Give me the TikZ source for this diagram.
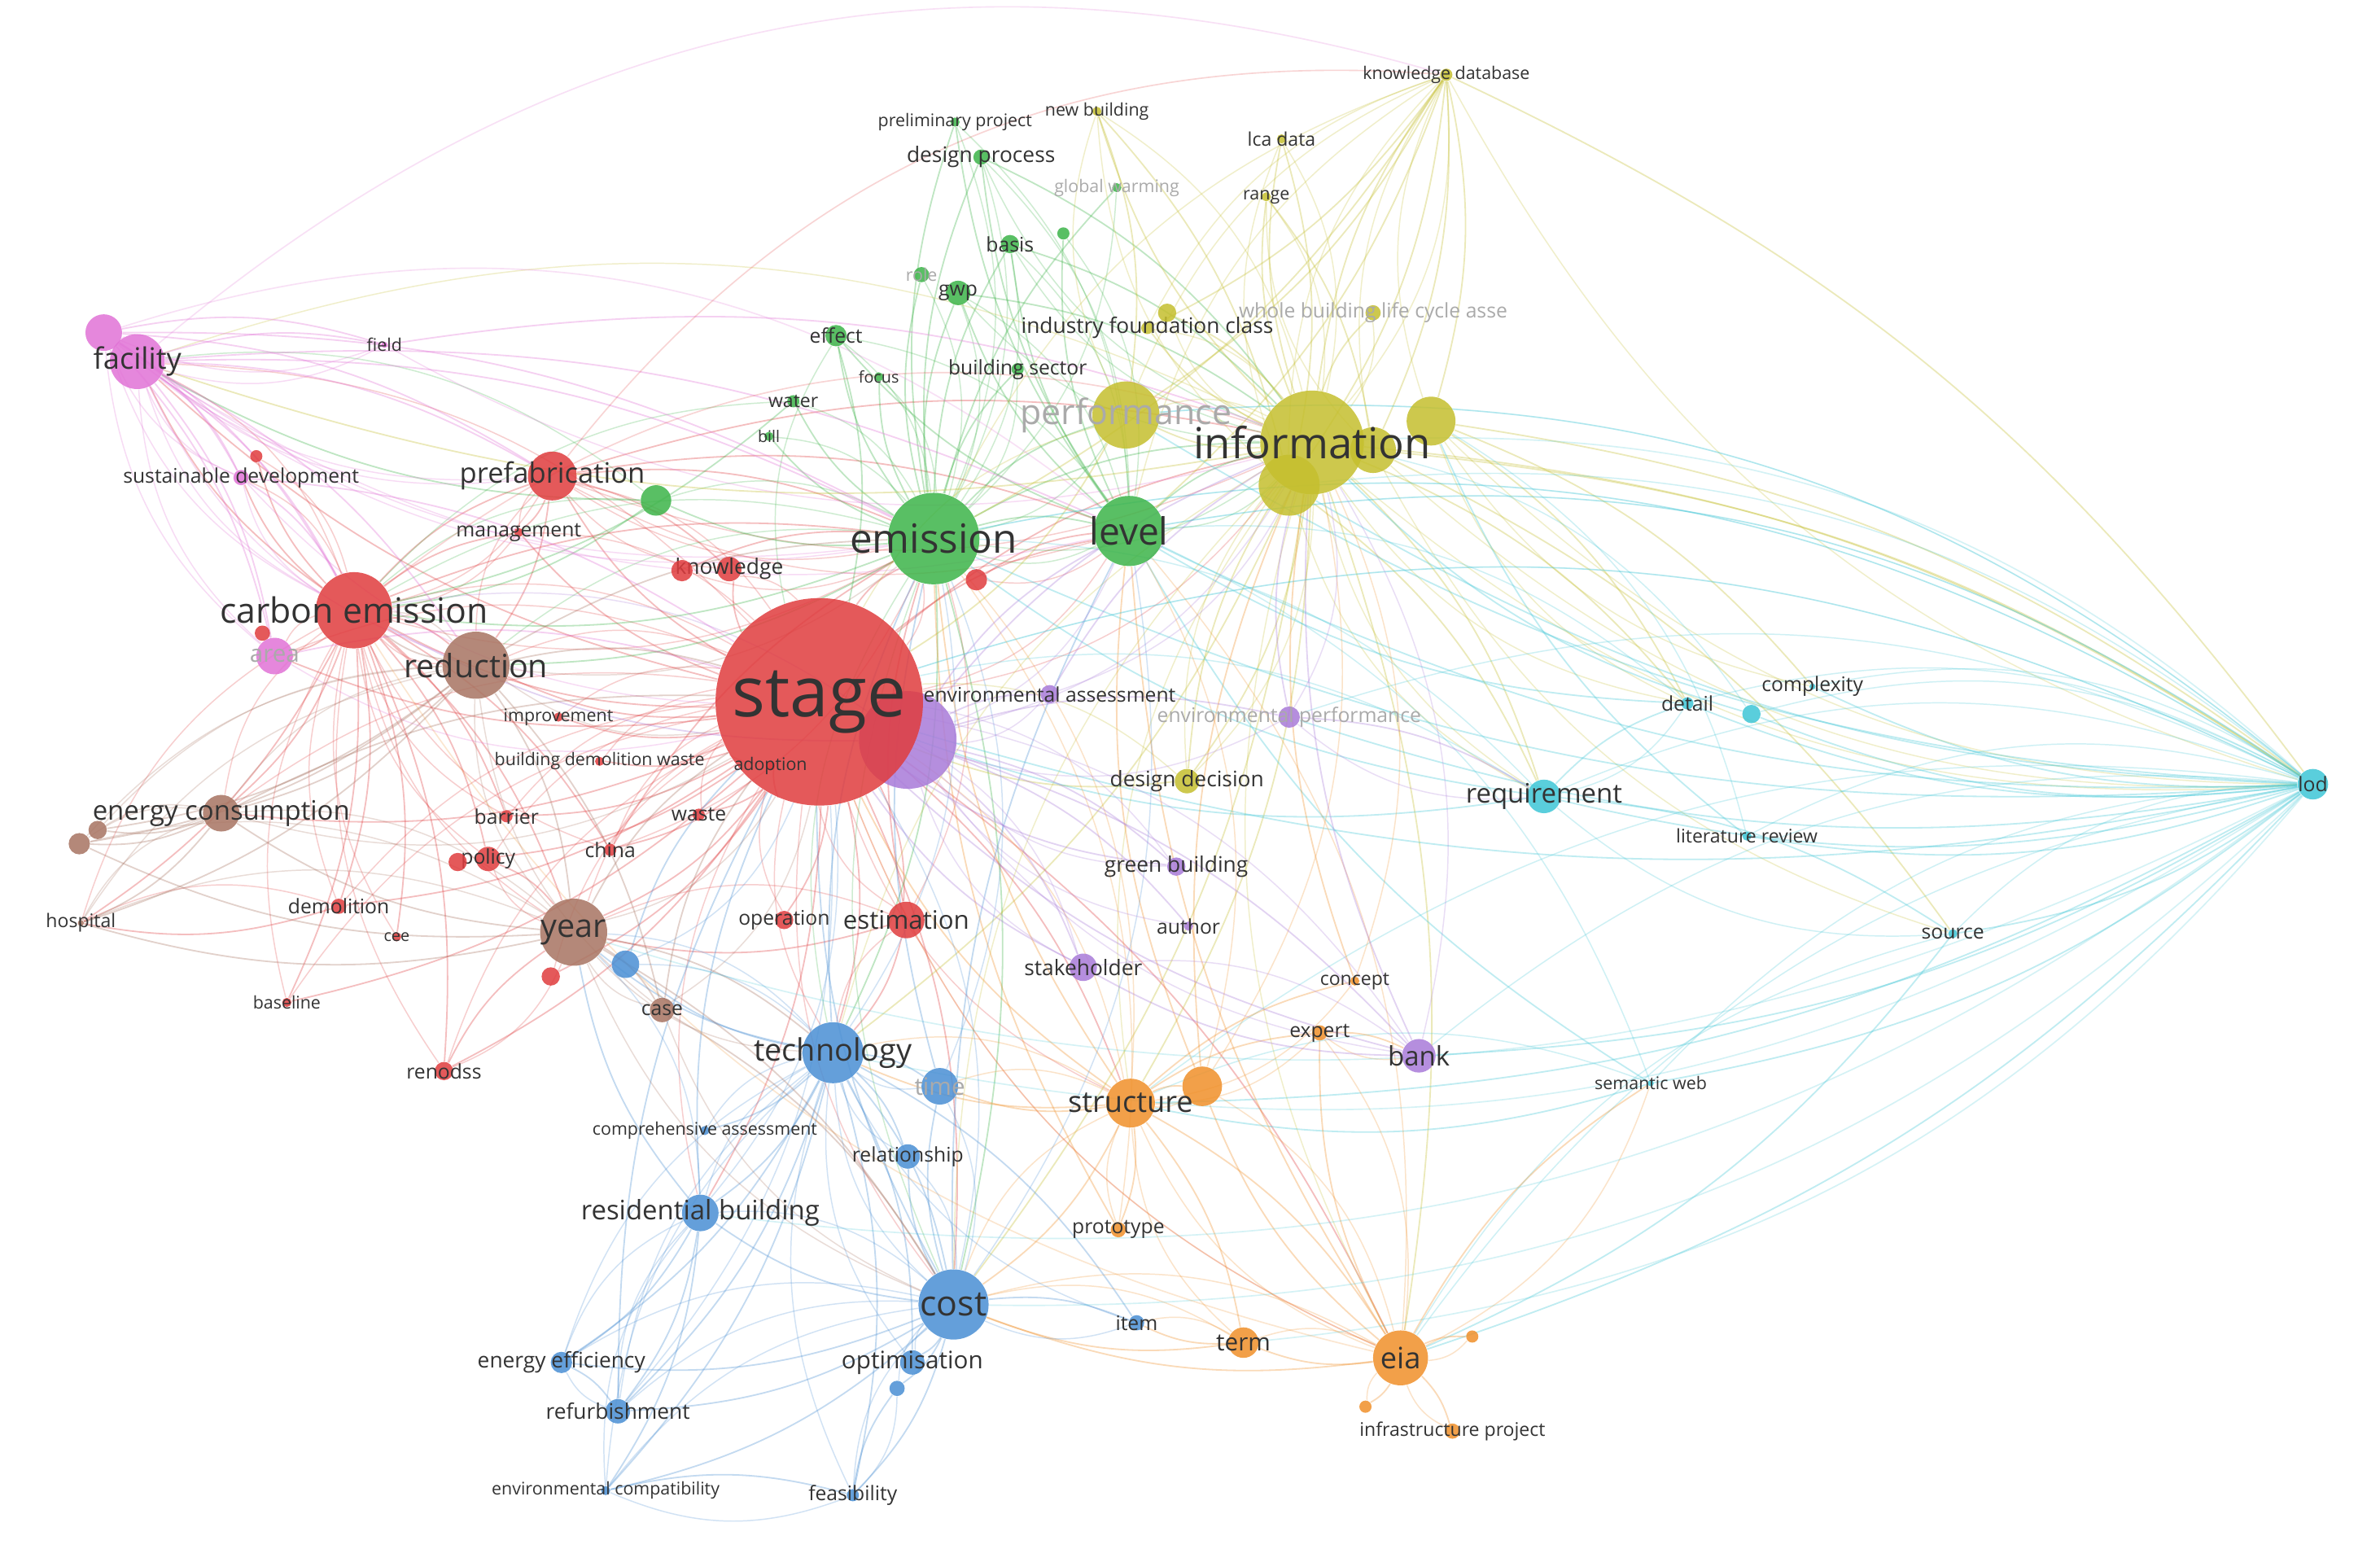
\documentclass[tikz,border=0pt]{standalone}
\usepackage{fontspec}
\setmainfont{Open Sans}
\usetikzlibrary{backgrounds}
\definecolor{cR}{HTML}{E03C3E}
\definecolor{cG}{HTML}{3DB449}
\definecolor{cY}{HTML}{C5BF2E}
\definecolor{cC}{HTML}{3EC6D6}
\definecolor{cO}{HTML}{F0902A}
\definecolor{cB}{HTML}{4A8FD4}
\definecolor{cP}{HTML}{A97BD9}
\definecolor{cK}{HTML}{E172D6}
\definecolor{cN}{HTML}{A87462}
\definecolor{txt}{HTML}{333333}
\definecolor{fad}{HTML}{AAAAAA}
\newcommand\kw[8]{\node[circle,fill=#5,fill opacity=.85,minimum size=#4*0.4mm,inner sep=0] (#1) at (#2,#3) {};
\node[font=\fontsize{#7}{#7}\selectfont,text=#8,inner sep=0] at (#2,#3) {#6};}
\tikzset{ed/.style={opacity=.33,line width=.55pt,bend left=14},ed2/.style={opacity=.25,line width=.45pt,bend right=22},far/.style={opacity=.22,line width=.5pt}}
\begin{document}
\begin{tikzpicture}[x=0.02cm,y=-0.02cm]
\useasboundingbox (0,0) rectangle (1560,1015);
% purple behind stage
\kw{pu}{595}{485}{32}{cP}{}{7}{txt}
% red
\kw{st}{537}{460}{68}{cR}{stage}{26}{txt}
\kw{ce}{232}{400}{25}{cR}{carbon emission}{13}{txt}
\kw{prf}{362}{312}{16}{cR}{prefabrication}{10.5}{txt}
\kw{mgmt}{340}{349}{3}{cR}{management}{7.5}{txt}
\kw{know}{478}{373}{8}{cR}{knowledge}{8}{txt}
\kw{r1}{447}{374}{7}{cR}{}{7}{txt}
\kw{r2}{640}{380}{7}{cR}{}{7}{txt}
\kw{imp}{366}{470}{3}{cR}{improvement}{6.5}{txt}
\kw{bdw}{393}{499}{3}{cR}{building demolition waste}{6.5}{txt}
\kw{ado}{505}{502}{3}{cR}{adoption}{6.5}{txt}
\kw{bar}{332}{535}{4}{cR}{barrier}{7.5}{txt}
\kw{waste}{458}{534}{4}{cR}{waste}{7.5}{txt}
\kw{china}{400}{557}{4}{cR}{china}{7.5}{txt}
\kw{pol}{320}{563}{8}{cR}{policy}{7.5}{txt}
\kw{dem}{222}{594}{5}{cR}{demolition}{7.5}{txt}
\kw{cee}{260}{614}{3}{cR}{cee}{6}{txt}
\kw{op}{514}{603}{6}{cR}{operation}{7.5}{txt}
\kw{est}{594}{603}{12}{cR}{estimation}{9.5}{txt}
\kw{ren}{291}{702}{6}{cR}{renodss}{7.5}{txt}
\kw{base}{188}{657}{3}{cR}{baseline}{6.5}{txt}
\kw{r3}{361}{640}{6}{cR}{}{7}{txt}
\kw{r4}{168}{299}{4}{cR}{}{7}{txt}
\kw{r5}{172}{415}{5}{cR}{}{7}{txt}
\kw{r6}{300}{565}{6}{cR}{}{7}{txt}
% pink
\kw{f2}{68}{218}{12}{cK}{}{7}{txt}
\kw{fac}{90}{237}{18}{cK}{facility}{11}{txt}
\kw{field}{252}{226}{2}{cK}{field}{6.5}{txt}
\kw{sd}{158}{313}{5}{cK}{sustainable development}{7.5}{txt}
\kw{area}{180}{430}{12}{cK}{area}{9}{fad}
% brown
\kw{red}{312}{436}{22}{cN}{reduction}{12}{txt}
\kw{ec}{145}{533}{12}{cN}{energy consumption}{10}{txt}
\kw{yr}{376}{611}{22}{cN}{year}{12}{txt}
\kw{case}{434}{662}{8}{cN}{case}{7.5}{txt}
\kw{hosp}{53}{605}{2}{cN}{hospital}{7}{txt}
\kw{b2}{52}{553}{7}{cN}{}{7}{txt}
\kw{b3}{64}{544}{6}{cN}{}{7}{txt}
% green
\kw{em}{612}{353}{30}{cG}{emission}{15}{txt}
\kw{lv}{740}{348}{23}{cG}{level}{14}{txt}
\kw{eff}{548}{220}{7}{cG}{effect}{7.5}{txt}
\kw{gwp}{628}{192}{8}{cG}{gwp}{7.5}{txt}
\kw{role}{604}{180}{5}{cG}{role}{6.5}{fad}
\kw{basis}{662}{160}{6}{cG}{basis}{7.5}{txt}
\kw{dp}{643}{103}{5}{cG}{design process}{8}{txt}
\kw{pp}{626}{80}{3}{cG}{preliminary project}{6.5}{txt}
\kw{gw}{732}{123}{3}{cG}{global warming}{6.5}{fad}
\kw{water}{520}{263}{4}{cG}{water}{7}{txt}
\kw{bill}{504}{286}{3}{cG}{bill}{6}{txt}
\kw{focus}{576}{247}{3}{cG}{focus}{6}{txt}
\kw{bs}{667}{242}{4}{cG}{building sector}{7.5}{txt}
\kw{g1}{430}{328}{10}{cG}{}{7}{txt}
\kw{g2}{697}{153}{4}{cG}{}{7}{txt}
% yellow
\kw{perf}{738}{272}{22}{cY}{performance}{13}{fad}
\kw{y1}{938}{276}{16}{cY}{}{7}{txt}
\kw{y2}{845}{318}{20}{cY}{}{7}{txt}
\kw{y3}{900}{295}{15}{cY}{}{7}{txt}
\kw{inf}{860}{290}{34}{cY}{information}{16}{txt}
\kw{ifc}{752}{215}{4}{cY}{industry foundation class}{8}{txt}
\kw{wb}{900}{205}{5}{cY}{whole building life cycle asse}{7.5}{fad}
\kw{kd}{948}{49}{4}{cY}{knowledge database}{6.5}{txt}
\kw{nb}{719}{73}{3}{cY}{new building}{6.5}{txt}
\kw{lca}{840}{91}{3}{cY}{lca data}{7}{txt}
\kw{range}{830}{129}{3}{cY}{range}{6.5}{txt}
\kw{y4}{765}{205}{6}{cY}{}{7}{txt}
\kw{dd}{778}{512}{8}{cY}{design decision}{8}{txt}
% purple
\kw{ea}{688}{455}{6}{cP}{environmental assessment}{7.5}{txt}
\kw{ep}{845}{470}{7}{cP}{environmental performance}{7.5}{fad}
\kw{gb}{771}{568}{6}{cP}{green building}{8}{txt}
\kw{sh}{710}{634}{9}{cP}{stakeholder}{8}{txt}
\kw{au}{779}{607}{3}{cP}{author}{7.5}{txt}
\kw{bank}{930}{692}{11}{cP}{bank}{10}{txt}
% cyan
\kw{lod}{1516}{514}{10}{cC}{lod}{7.5}{txt}
\kw{req}{1012}{522}{11}{cC}{requirement}{10}{txt}
\kw{det}{1106}{461}{4}{cC}{detail}{7.5}{txt}
\kw{c1}{1148}{468}{6}{cC}{}{7}{txt}
\kw{cplx}{1188}{450}{2}{cC}{complexity}{7.5}{txt}
\kw{lr}{1145}{548}{3}{cC}{literature review}{7}{txt}
\kw{src}{1280}{612}{3}{cC}{source}{7.5}{txt}
\kw{sw}{1082}{710}{2}{cC}{semantic web}{6.5}{txt}
% orange
\kw{o1}{788}{712}{13}{cO}{}{7}{txt}
\kw{str}{741}{723}{16}{cO}{structure}{11}{txt}
\kw{eia}{918}{890}{18}{cO}{eia}{11}{txt}
\kw{term}{815}{880}{10}{cO}{term}{9}{txt}
\kw{proto}{733}{806}{5}{cO}{prototype}{7.5}{txt}
\kw{exp}{865}{677}{5}{cO}{expert}{7.5}{txt}
\kw{conc}{888}{643}{3}{cO}{concept}{7}{txt}
\kw{ip}{952}{938}{5}{cO}{infrastructure project}{7}{txt}
\kw{o2}{965}{876}{4}{cO}{}{7}{txt}
\kw{o3}{895}{922}{4}{cO}{}{7}{txt}
% blue
\kw{b1}{410}{632}{9}{cB}{}{7}{txt}
\kw{tech}{546}{690}{20}{cB}{technology}{11.5}{txt}
\kw{time}{616}{712}{12}{cB}{time}{9}{fad}
\kw{rb}{459}{795}{12}{cB}{residential building}{10}{txt}
\kw{cost}{625}{855}{23}{cB}{cost}{13}{txt}
\kw{opt}{598}{893}{8}{cB}{optimisation}{9}{txt}
\kw{ee}{368}{893}{7}{cB}{energy efficiency}{8}{txt}
\kw{ref}{405}{925}{8}{cB}{refurbishment}{8}{txt}
\kw{envc}{397}{977}{3}{cB}{environmental compatibility}{6.5}{txt}
\kw{feas}{559}{980}{4}{cB}{feasibility}{7.5}{txt}
\kw{item}{745}{867}{5}{cB}{item}{7.5}{txt}
\kw{rel}{595}{758}{8}{cB}{relationship}{7.5}{txt}
\kw{ca}{462}{741}{3}{cB}{comprehensive assessment}{6.5}{txt}
\kw{b4}{588}{910}{5}{cB}{}{7}{txt}
\begin{scope}[on background layer]
\fill[white] (0,0) rectangle (1560,1015);
\foreach \a/\b in {st/ce,st/prf,st/red,st/yr,st/em,st/lv,st/inf,st/tech,st/cost,st/str,st/fac,st/ec,st/area,st/bar,st/waste,st/china,st/pol,st/dem,st/ren,st/base,st/est,st/op,st/know,st/mgmt,st/imp,st/bdw,st/ado,st/r3,st/eia,st/rb,ce/prf,ce/red,ce/area,ce/fac,ce/sd,ce/ec,ce/yr,ce/pol,ce/dem,ce/hosp,ce/ren,ce/base,ce/bar,ce/china,ce/mgmt,ce/em,ce/r4,ce/cee,prf/em,prf/lv,prf/inf,prf/mgmt,prf/red,prf/know,est/em,est/tech,est/yr,r1/em,r2/lv,pol/yr,dem/hosp,ren/yr,china/em}
  {\draw[ed,cR] (\a) to (\b); \draw[ed2,cR] (\a) to (\b);}
\foreach \a/\b in {em/lv,em/inf,em/eff,em/gwp,em/role,em/basis,em/dp,em/pp,em/gw,em/water,em/bill,em/focus,em/bs,em/g1,em/perf,em/tech,em/cost,em/ce,em/red,lv/inf,lv/gwp,lv/basis,lv/pp,lv/dp,lv/g2,lv/eff,g1/ce,g1/fac,gwp/inf,eff/st,water/ce,basis/inf,dp/inf}
  {\draw[ed,cG] (\a) to (\b); \draw[ed2,cG] (\a) to (\b);}
\foreach \a/\b in {inf/kd,inf/nb,inf/lca,inf/range,inf/ifc,inf/wb,inf/perf,inf/dd,inf/lod,inf/req,inf/det,inf/str,inf/eia,inf/cost,inf/tech,inf/fac,kd/perf,kd/lv,kd/y1,kd/ifc,kd/em,kd/y2,kd/y3,kd/lod,nb/perf,nb/y2,lca/y2,range/y3,y1/lod,y1/det,y2/req,y3/lod,perf/st,y4/inf,dd/inf,dd/st,y1/cplx,y3/src}
  {\draw[ed,cY] (\a) to (\b); \draw[ed2,cY] (\a) to (\b);}
\foreach \a/\b in {lod/req,lod/det,lod/cplx,lod/lr,lod/src,lod/sw,lod/em,lod/lv,lod/st,lod/str,lod/eia,lod/perf,lod/bank,lod/c1,lod/y2,lod/ep,req/det,req/src,req/em,req/st,det/lv,c1/inf,lr/y1,src/eia,sw/str,sw/lv}
  {\draw[ed,cC] (\a) to (\b); \draw[ed2,cC] (\a) to (\b);}
\foreach \a/\b in {str/eia,str/term,str/proto,str/exp,str/conc,str/o1,str/st,str/tech,str/cost,str/time,str/em,eia/term,eia/ip,eia/o1,eia/exp,eia/cost,eia/o2,eia/o3,eia/lv,eia/sw,term/cost,term/item,o1/inf,o1/lv,exp/bank,conc/inf,proto/em}
  {\draw[ed,cO] (\a) to (\b); \draw[ed2,cO] (\a) to (\b);}
\foreach \a/\b in {tech/cost,tech/time,tech/rb,tech/opt,tech/ee,tech/ref,tech/envc,tech/feas,tech/item,tech/rel,tech/ca,tech/yr,tech/b1,tech/em,cost/opt,cost/ee,cost/ref,cost/envc,cost/feas,cost/item,cost/rb,cost/rel,cost/time,cost/b4,cost/st,cost/lv,rb/ee,rb/ref,rb/envc,rb/st,rb/yr,ee/ref,envc/feas,ref/st,b1/st,time/em,feas/b4}
  {\draw[ed,cB] (\a) to (\b); \draw[ed2,cB] (\a) to (\b);}
\foreach \a/\b in {pu/ea,pu/ep,pu/gb,pu/sh,pu/au,pu/bank,pu/inf,pu/lv,pu/ce,bank/sh,bank/inf,bank/st,ea/inf,gb/st,sh/st,ep/inf,ep/req}
  {\draw[ed,cP] (\a) to (\b); \draw[ed2,cP] (\a) to (\b);}
\foreach \a/\b in {fac/f2,fac/field,fac/sd,fac/area,fac/ce,fac/prf,fac/em,fac/red,fac/lv,f2/sd,f2/area,f2/ce,f2/field,f2/prf,f2/em,sd/ce,sd/st,area/st,field/inf}
  {\draw[ed,cK] (\a) to (\b); \draw[ed2,cK] (\a) to (\b);}
\foreach \a/\b in {red/yr,red/ec,red/ce,red/st,red/case,red/hosp,red/b2,red/b3,red/em,yr/case,yr/ec,yr/st,yr/tech,yr/hosp,yr/b2,yr/cost,ec/b2,ec/b3,ec/hosp,ec/st,case/st,case/cost}
  {\draw[ed,cN] (\a) to (\b); \draw[ed2,cN] (\a) to (\b);}
% long outer arcs
\foreach \a/\b/\c in {fac/kd/cK,ce/inf/cR,f2/lv/cK,prf/kd/cR}
  \draw[far,\c,bend left=28] (\a) to (\b);
\foreach \a/\b/\c in {lod/cost/cC,lod/tech/cC,lod/rb/cC,lod/term/cC,lod/yr/cC,eia/st/cO,eia/ce/cO}
  \draw[far,\c,bend left=22] (\a) to (\b);
\foreach \a/\b/\c in {lod/st/cC,lod/em/cC,lod/inf/cC,lod/perf/cC,lod/lv/cC}
  \draw[far,\c,bend right=22] (\a) to (\b);
\end{scope}
\end{tikzpicture}
\end{document}
